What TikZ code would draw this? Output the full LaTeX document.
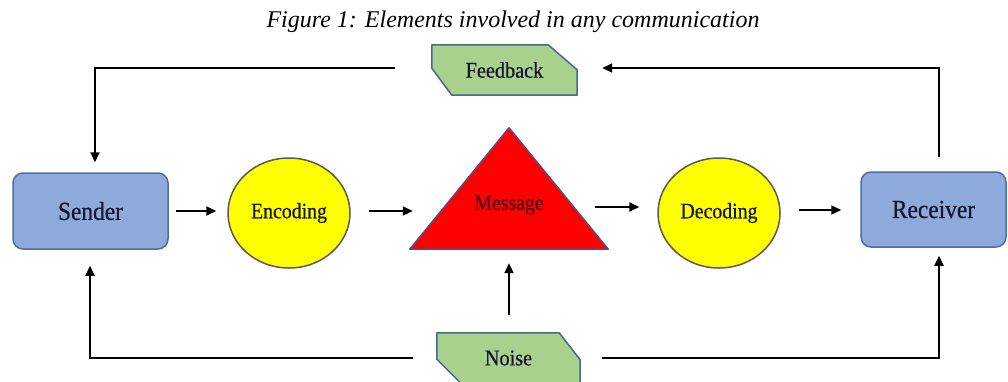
\documentclass[tikz,border=0pt]{standalone}
\usepackage{fontspec}
\setmainfont{Liberation Serif}
\newfontfamily\labfont[FakeStretch=0.9,FakeBold=0.6]{Liberation Serif}
\usetikzlibrary{arrows.meta,shapes.geometric,calc,backgrounds}
\definecolor{boxblue}{RGB}{142,170,219}
\definecolor{boxblueline}{RGB}{78,108,165}
\definecolor{tagfill}{RGB}{169,209,142}
\definecolor{tagline}{RGB}{70,105,140}
\definecolor{circfill}{RGB}{255,255,0}
\definecolor{circline}{RGB}{90,90,80}
\definecolor{trifill}{RGB}{255,0,0}
\definecolor{triline}{RGB}{95,75,120}
\definecolor{labtext}{RGB}{22,22,45}
\definecolor{msgtext}{RGB}{80,10,20}
\tikzset{
  party/.style={rectangle, rounded corners=10pt, fill=boxblue, draw=boxblueline,
    line width=1.5pt, inner sep=0pt, text=labtext,
    font=\labfont\fontsize{26}{26}\selectfont},
  codec/.style={ellipse, fill=circfill, draw=circline, line width=1.5pt,
    minimum width=122pt, minimum height=110pt, inner sep=0pt, text=labtext,
    font=\labfont\fontsize{22}{22}\selectfont},
  tag/.style={rectangle, inner sep=0pt, text=labtext,
    font=\labfont\fontsize{22.5}{22.5}\selectfont},
  tagshape/.style={fill=tagfill, draw=tagline, line width=1.5pt, line join=round},
  arr/.style={line width=2pt, -{Triangle[length=10pt,width=9pt]}},
  wire/.style={line width=2pt}
}
\begin{document}
\begin{tikzpicture}[x=1pt, y=-1pt]
\useasboundingbox (0,0) rectangle (1008,381);
\clip (0,0) rectangle (1008,381);

% caption
\node[anchor=base, font=\fontsize{24}{24}\selectfont\itshape] (title) at (513,27)
  {Figure 1: Elements involved in any communication};

% main chain
\node[party, minimum width=155pt, minimum height=76pt] (snd) at (90.5,211) {Sender};
\node[codec] (enc) at (289,213) {Encoding};
\node[inner sep=0pt, minimum width=198pt, minimum height=121pt] (msg) at (509,188.5) {};
\node[inner sep=0pt, text=msgtext, font=\labfont\fontsize{22}{22}\selectfont] (msgt) at (509,205) {Message};
\node[codec] (dec) at (719,213) {Decoding};
\node[party, minimum width=145pt, minimum height=75pt] (rcv) at (933.5,209.5) {Receiver};

% side tags
\node[tag, minimum width=145pt, minimum height=50pt] (fb) at (504.5,70) {Feedback};
\node[tag, minimum width=143pt, minimum height=50pt] (ns) at (508.5,358) {Noise};

\begin{scope}[on background layer]
  \path[fill=trifill, draw=triline, line width=1.5pt, line join=round]
    (msg.south west) -- (msg.north) -- (msg.south east) -- cycle;
  \path[tagshape] (fb.north west) -- ([xshift=-29pt]fb.north east)
    -- ([yshift=-25pt]fb.north east) -- (fb.south east)
    -- ([xshift=20pt]fb.south west) -- ([yshift=27pt]fb.south west) -- cycle;
  \path[tagshape] (ns.north west) -- ([xshift=-21pt]ns.north east)
    -- ([yshift=-27pt]ns.north east) -- (ns.south east)
    -- ([xshift=24pt]ns.south west) -- ([yshift=24pt]ns.south west) -- cycle;
\end{scope}

% forward arrows
\draw[arr] ([xshift=7pt]snd.east) -- ($(enc.west |- snd.east)+(-11,0)$);
\draw[arr] ($(enc.east)+(18,-2)$) -- ($(msg.west |- enc.east)+(3,-2)$);
\draw[arr] ($(msg.east)+(-13,18.5)$) -- ($(dec.west)+(-18,-6)$);
\draw[arr] ($(dec.east)+(18,-3)$) -- ($(rcv.west |- dec.east)+(-19,-3)$);

% feedback loop
\draw[arr] ([xshift=5.5pt,yshift=14pt]rcv.north) |- ([xshift=25pt,yshift=2pt]fb.east);
\draw[arr] ([xshift=-37pt,yshift=2pt]fb.west) -| ([xshift=4.5pt,yshift=10pt]snd.north);

% noise paths
\draw[arr] ($(msg.south |- ns.north)+(0,-18)$) -- ($(msg.south)+(0,14)$);
\draw[arr] ([xshift=-24pt]ns.west) -| ([xshift=-0.5pt,yshift=-16pt]snd.south);
\draw[arr] ([xshift=22pt]ns.east) -| ([xshift=5.5pt,yshift=-8pt]rcv.south);
\end{tikzpicture}
\end{document}
